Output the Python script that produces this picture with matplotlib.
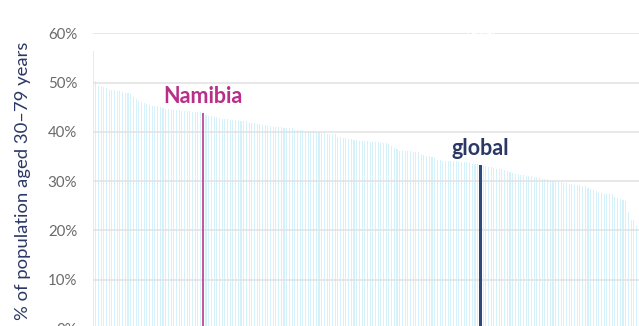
import numpy as np
import matplotlib
matplotlib.use("Agg")
import matplotlib.pyplot as plt
from matplotlib.ticker import FuncFormatter

plt.rcParams['font.family'] = ['Lato', 'DejaVu Sans']

# share of population aged 30-79 with hypertension, countries sorted high to low
values = [
    56.5, 50.4, 49.4, 49.3, 49.2, 48.8, 48.5, 48.4, 48.4, 48.3,
    48.3, 48.0, 47.9, 47.8, 47.6, 47.0, 46.6, 46.3, 46.1, 45.8,
    45.6, 45.4, 45.3, 45.3, 45.2, 45.1, 44.8, 44.6, 44.6, 44.5,
    44.5, 44.4, 44.4, 44.3, 44.3, 44.2, 44.2, 44.1, 44.1, 44.0,
    44.0, 43.9, 43.4, 43.3, 43.2, 43.1, 43.0, 42.8, 42.7, 42.6,
    42.6, 42.5, 42.4, 42.4, 42.3, 42.3, 42.2, 42.2, 41.9, 41.8,
    41.7, 41.6, 41.5, 41.4, 41.3, 41.2, 41.1, 41.0, 41.0, 40.9,
    40.9, 40.8, 40.8, 40.7, 40.7, 40.4, 40.4, 40.3, 40.3, 40.2,
    40.2, 40.1, 40.1, 40.0, 40.0, 39.7, 39.7, 39.6, 39.6, 39.5,
    39.5, 39.0, 38.9, 38.8, 38.7, 38.6, 38.5, 38.3, 38.3, 38.2,
    38.2, 38.1, 38.1, 38.0, 38.0, 37.9, 37.9, 37.8, 37.8, 37.8,
    37.5, 37.2, 36.8, 36.5, 36.2, 36.1, 36.1, 36.1, 36.1, 36.0,
    36.0, 36.0, 35.6, 35.3, 35.2, 35.1, 35.0, 34.7, 34.3, 34.2,
    34.1, 34.1, 34.1, 34.0, 34.0, 34.0, 33.9, 33.9, 33.8, 33.8,
    33.7, 33.5, 33.4, 33.4, 33.3, 33.1, 33.0, 32.9, 32.8, 32.6,
    32.5, 32.4, 32.4, 32.2, 32.0, 31.8, 31.7, 31.5, 31.4, 31.3,
    31.2, 31.1, 31.0, 31.0, 30.9, 30.8, 30.6, 30.5, 30.5, 30.4,
    30.1, 30.0, 30.0, 29.9, 29.9, 29.7, 29.6, 29.5, 29.4, 29.3,
    29.2, 29.2, 29.1, 29.0, 28.7, 28.4, 28.2, 28.0, 27.6, 27.5,
    27.4, 27.4, 27.3, 27.3, 26.8, 26.6, 26.4, 26.2, 25.9, 23.8,
    22.1, 22.1, 20.8,
]
namibia_idx = 41
global_idx = 144
yticks = [0, 10, 20, 30, 40, 50, 60]

light = '#d5f1fa'
pink = '#c25aa3'
pink_txt = '#b82f89'
navy = '#2c4a7e'
navy_txt = '#2b3866'

W, H = 639, 326
fig = plt.figure(figsize=(W / 100, H / 100), dpi=100)
left, right = 92.5, 639
top, bottom = 33.3, 329
ax = fig.add_axes([left / W, (H - bottom) / H, (right - left) / W, (bottom - top) / H])

x = np.arange(len(values))
ax.bar(x, values, width=0.4, color=light, zorder=1, linewidth=0)
ax.bar([namibia_idx], [values[namibia_idx]], width=0.85, color=pink, zorder=3, linewidth=0)
ax.bar([global_idx], [values[global_idx]], width=0.85, color=navy, zorder=3, linewidth=0)

ax.set_xlim(-0.2, -0.2 + (right - left) / 2.69)
ax.set_ylim(0, 60)
ax.set_yticks(yticks)
ax.yaxis.set_major_formatter(FuncFormatter(lambda v, p: f"{int(v)}%"))
ax.set_xticks([])
ax.tick_params(axis='y', length=0, pad=11, labelsize=10.8, labelcolor='#6a6a6a')
ax.grid(axis='y', color='#e2e2e2', linewidth=1.1, zorder=2)
ax.set_axisbelow(False)
for s in ax.spines.values():
    s.set_visible(False)

ax.set_ylabel('% of population aged 30–79 years', fontsize=13.3, color=navy_txt, labelpad=12)

ax.annotate('Namibia', (namibia_idx, values[namibia_idx]), xytext=(0, 4),
            textcoords='offset points', ha='center', va='bottom',
            fontsize=15.5, fontweight='bold', color=pink_txt, zorder=4)
ax.annotate('global', (global_idx, values[global_idx]), xytext=(0, 4.5),
            textcoords='offset points', ha='center', va='bottom',
            fontsize=15.5, fontweight='bold', color=navy_txt, zorder=4)
# hidden label that breaks the top gridline
ax.text(global_idx, 60, 'Global', ha='center', va='center', fontsize=7,
        fontweight='bold', color='white', zorder=5, clip_on=False)

fig.savefig('out.png', dpi=100)
